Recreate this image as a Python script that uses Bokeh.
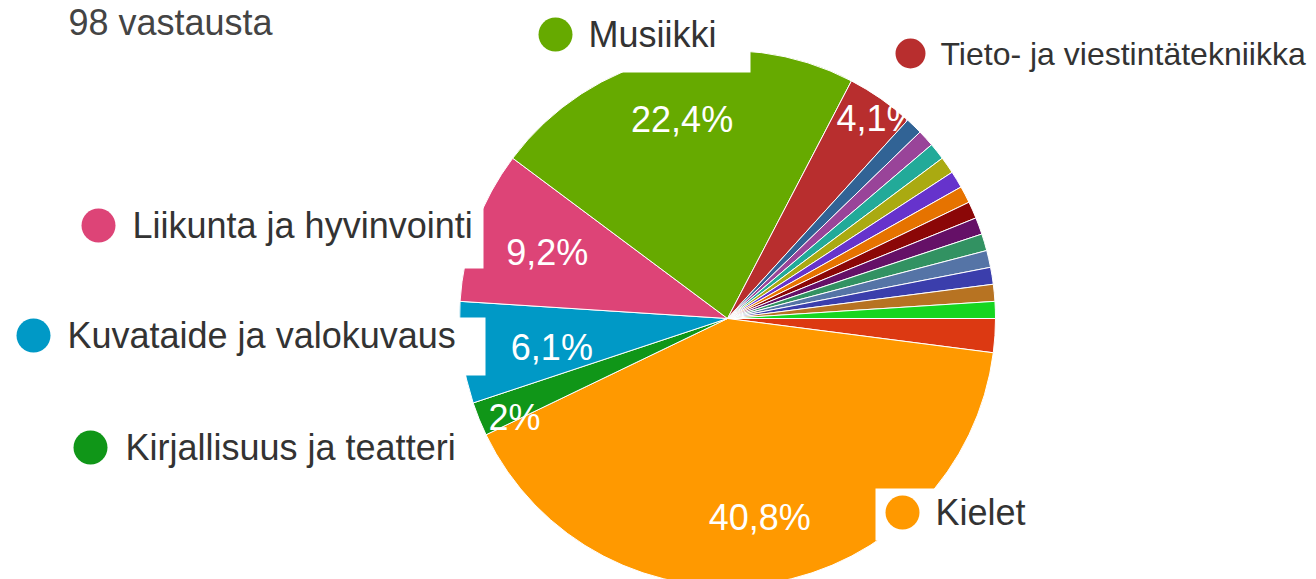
import numpy as np
from bokeh.plotting import figure
from bokeh.models import ColumnDataSource, Range1d
from bokeh.embed import file_html
from bokeh.resources import INLINE
from bokeh.core.properties import value

# ---------------- data ----------------
title_text = "98 vastausta"
categories = [
    "Muu vastaus A", "Muu vastaus B", "Kielet", "Kirjallisuus ja teatteri",
    "Muu vastaus C", "Kuvataide ja valokuvaus", "Liikunta ja hyvinvointi",
    "Musiikki", "Tieto- ja viestintätekniikka",
    "Muu 1", "Muu 2", "Muu 3", "Muu 4", "Muu 5", "Muu 6", "Muu 7",
    "Muu 8", "Muu 9", "Muu 10", "Muu 11", "Muu 12", "Muu 13",
]
counts = [0, 2, 40, 2, 0, 6, 9, 22, 4, 1, 1, 1, 1, 1, 1, 1, 1, 1, 1, 1, 1, 1]
colors = [
    "#3366cc", "#dc3912", "#ff9900", "#109618", "#990099", "#0099c6",
    "#dd4477", "#66aa00", "#b82e2e", "#316395", "#994499", "#22aa99",
    "#aaaa11", "#6633cc", "#e67300", "#8b0707", "#651067", "#329262",
    "#5574a6", "#3b3eac", "#b77322", "#16d620",
]
legend_names = ["Musiikki", "Tieto- ja viestintätekniikka", "Liikunta ja hyvinvointi",
                "Kuvataide ja valokuvaus", "Kirjallisuus ja teatteri", "Kielet"]

# ---------------- layout (pixels, top-left origin) ----------------
W, H = 1316, 579
CX, CY, R = 727, 318, 268
START_DEG = 90.0  # clockwise from 12 o'clock

# percentage label placement: radius and angular nudge per labelled slice
pct_layout = {
    "Kielet": (202, 0), "Kirjallisuus ja teatteri": (235, -3),
    "Kuvataide ja valokuvaus": (178, -2), "Liikunta ja hyvinvointi": (192, 0),
    "Musiikki": (204, 0), "Tieto- ja viestintätekniikka": (250, 2),
}
# legend label placement: dot x, dot y, text x, dot radius, font size
legend_layout = {
    "Musiikki": (555, 34, 588, 17, "36px"),
    "Tieto- ja viestintätekniikka": (910, 53, 940, 15, "32px"),
    "Liikunta ja hyvinvointi": (98, 225, 132, 17, "36px"),
    "Kuvataide ja valokuvaus": (33, 335, 67, 17, "36px"),
    "Kirjallisuus ja teatteri": (90, 447, 125, 17, "36px"),
    "Kielet": (902, 512, 935, 17, "36px"),
}
# white label boxes that mask the pie edge (left, right, top, bottom)
mask_boxes = [(530, 750, 0, 72), (60, 483, 195, 268), (5, 485, 317, 375), (875, 1045, 488, 540)]

FONT = "Liberation Sans"


def Y(ypx):
    return H - ypx


total = sum(counts)
fr = np.array(counts, dtype=float) / total
theta_end = START_DEG + np.cumsum(fr) * 360.0
theta_start = theta_end - fr * 360.0
phi_start = np.radians(90.0 - theta_end)
phi_end = np.radians(90.0 - theta_start)


def pct_text(c):
    s = f"{100.0 * c / total:.1f}"
    if s.endswith(".0"):
        s = s[:-2]
    return s.replace(".", ",") + "%"


idx_tieto = categories.index("Tieto- ja viestintätekniikka")

p = figure(width=W, height=H, x_range=Range1d(0, W), y_range=Range1d(0, H),
           output_backend="svg", toolbar_location=None, min_border=0,
           x_axis_location=None, y_axis_location=None)
p.outline_line_color = None
p.background_fill_color = "white"
p.border_fill_color = "white"
for g in p.grid:
    g.visible = False


def wedge_source(ids):
    return ColumnDataSource(dict(
        x=[CX] * len(ids), y=[Y(CY)] * len(ids),
        s=[phi_start[i] for i in ids], e=[phi_end[i] for i in ids],
        c=[colors[i] for i in ids]))


first_ids = [i for i in range(idx_tieto + 1) if counts[i] > 0]
rest_ids = [i for i in range(idx_tieto + 1, len(counts)) if counts[i] > 0]

p.wedge(x="x", y="y", radius=R, start_angle="s", end_angle="e", direction="anticlock",
        fill_color="c", line_color="white", line_width=1, source=wedge_source(first_ids))

# percentage labels
px, py, pt = [], [], []
for name, (rr, off) in pct_layout.items():
    i = categories.index(name)
    mid = np.radians((theta_start[i] + theta_end[i]) / 2.0 + off)
    px.append(CX + rr * np.sin(mid))
    py.append(Y(CY - rr * np.cos(mid)))
    pt.append(pct_text(counts[i]))
p.text(x=px, y=py, text=pt, text_color="white", text_font=value(FONT),
       text_font_size="36px", text_align="center", text_baseline="middle")

p.wedge(x="x", y="y", radius=R, start_angle="s", end_angle="e", direction="anticlock",
        fill_color="c", line_color="white", line_width=1, source=wedge_source(rest_ids))

# masking label boxes
p.quad(left=[b[0] for b in mask_boxes], right=[b[1] for b in mask_boxes],
       top=[Y(b[2]) for b in mask_boxes], bottom=[Y(b[3]) for b in mask_boxes],
       fill_color="white", line_color=None)

# legend-style labels
dx, dy, dr, dc, tx, ty, tt, tf = [], [], [], [], [], [], [], []
for name in legend_names:
    i = categories.index(name)
    a, b, c, r, fs = legend_layout[name]
    dx.append(a); dy.append(Y(b)); dr.append(r); dc.append(colors[i])
    tx.append(c); ty.append(Y(b)); tt.append(name); tf.append(fs)
p.circle(x=dx, y=dy, radius=dr, fill_color=dc, line_color=None)
p.text(x=tx, y=ty, text=tt, text_color="#333333", text_font=value(FONT),
       text_font_size=tf, text_align="left", text_baseline="middle")

p.text(x=[68], y=[Y(22)], text=[title_text], text_color="#444444", text_font=value(FONT),
       text_font_size="36px", text_align="left", text_baseline="middle")

open("out.html", "w").write(file_html(p, INLINE))
